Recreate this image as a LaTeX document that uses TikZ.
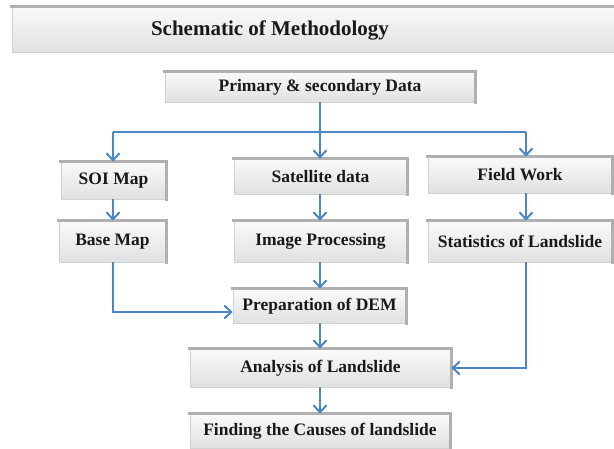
\documentclass[tikz,border=0pt]{standalone}
\usepackage{fontspec}
\setmainfont{Liberation Serif}
\usetikzlibrary{arrows.meta}
\definecolor{flowblue}{HTML}{4A86C8}
\tikzset{
  box/.style={rectangle, inner sep=0pt, top color=gray!4, bottom color=gray!24,
    draw=gray!35, line width=0.6pt, font=\fontsize{17.5}{20}\selectfont\bfseries, text=black!90},
  rim/.style={draw=gray!62, line width=2.6pt, line cap=rect},
  flow/.style={draw=flowblue, line width=2.3pt, -{Straight Barb[length=7pt,width=13pt,line width=2pt]}},
  flowline/.style={draw=flowblue, line width=2.3pt}
}
\begin{document}
\begin{tikzpicture}[x=1pt,y=-1pt]
\useasboundingbox (0,0) rectangle (614,449);
% title bar
\node[box, minimum width=603pt, minimum height=45pt] (bar) at (313.5,29.5) {};
\node[font=\fontsize{21}{24}\selectfont\bfseries, text=black!90] (title) at (270,30) {Schematic of Methodology};
% boxes
\node[box, minimum width=310pt, minimum height=30pt] (prim) at (320,87) {Primary \& secondary Data};
\node[box, minimum width=105pt, minimum height=37pt] (soi) at (113.5,180.5) {SOI Map};
\node[box, minimum width=107pt, minimum height=41pt] (base) at (112.5,241.5) {Base Map};
\node[box, minimum width=173pt, minimum height=35pt] (sat) at (320.5,176.5) {Satellite data};
\node[box, minimum width=173pt, minimum height=41pt] (img) at (320.5,241.5) {Image Processing};
\node[box, minimum width=184pt, minimum height=36pt] (field) at (520,175) {Field Work};
\node[box, minimum width=184pt, minimum height=41pt] (stats) at (520,241.5) {Statistics of Landslide};
\node[box, minimum width=173pt, minimum height=34pt] (prep) at (319.5,306) {Preparation of DEM};
\node[box, minimum width=261pt, minimum height=38pt] (ana) at (320.5,368) {Analysis of Landslide};
\node[box, minimum width=260pt, minimum height=34pt] (find) at (320,431) {Finding the Causes of landslide};
% darker top and right rims
\foreach \n in {bar,prim,soi,base,sat,img,field,stats,prep,ana,find}{
  \draw[rim] (\n.north west) -- (\n.north east) -- (\n.south east);
}
% connectors
\coordinate (split) at (320,132);
\coordinate (lft) at (113,132);
\coordinate (rgt) at (526,132);
\coordinate (bend1) at (113,312);
\coordinate (bend2) at (526,368);
\draw[flowline] (prim.south -| split) -- (split);
\draw[flowline] (lft) -- (rgt);
\draw[flow] (lft) -- (lft |- soi.north);
\draw[flow] (split) -- (split |- sat.north);
\draw[flow] (rgt) -- (rgt |- field.north);
\draw[flow] (soi.south -| lft) -- (base.north -| lft);
\draw[flow] (sat.south -| split) -- (img.north -| split);
\draw[flow] (field.south -| rgt) -- (stats.north -| rgt);
\draw[flow] (base.south -| lft) -- (bend1) -- (bend1 -| prep.west);
\draw[flow] (img.south -| split) -- (prep.north -| split);
\draw[flow] (stats.south -| rgt) -- (bend2) -- (ana.east);
\draw[flow] (prep.south -| split) -- (ana.north -| split);
\draw[flow] (ana.south -| split) -- (find.north -| split);
\end{tikzpicture}
\end{document}
